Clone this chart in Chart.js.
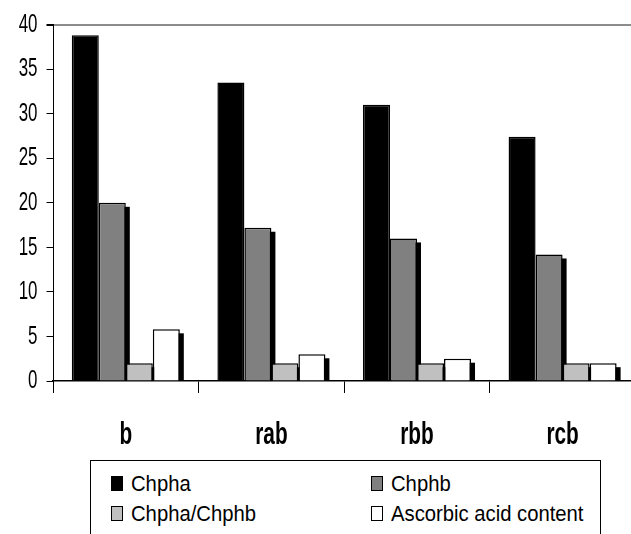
<!DOCTYPE html>
<html>
<head>
<meta charset="utf-8">
<script src="https://cdn.jsdelivr.net/npm/chart.js@4/dist/chart.umd.min.js"></script>
<style>
  html, body { margin: 0; padding: 0; background: #fff; overflow: hidden; width: 631px; height: 534px; }
  #wrap { position: relative; width: 631px; height: 534px; overflow: hidden; }
  #chart { position: absolute; left: 0; top: 0; }
  #legend {
    position: absolute; left: 90px; top: 460px; width: 511px; height: 100px;
    border: 1.5px solid #000; box-sizing: border-box;
    font-family: 'Liberation Sans', Arial, sans-serif;
    font-size: 22.5px; color: #000; padding: 8px 0 0 20px;
    display: grid; grid-template-columns: 260px auto; grid-auto-rows: 30px;
  }
  .item { line-height: 30px; white-space: nowrap; }
  .swatch { display: inline-block; width: 12px; height: 15px; border: 1px solid #000; box-sizing: border-box; margin-right: 8px; }
  .txt { display: inline-block; transform: scaleX(0.9); transform-origin: left center; }
</style>
</head>
<body>
<div id="wrap">
  <canvas id="chart" width="640" height="455"></canvas>
  <div id="legend"></div>
</div>
<script>
// Sample groups and measured series
const categories = ['b', 'rab', 'rbb', 'rcb'];
const chphaValues = [38.8, 33.5, 31.0, 27.4];
const chphbValues = [20.0, 17.2, 16.0, 14.2];
const ratioValues = [2.0, 2.0, 2.0, 2.0];
const ascorbicValues = [5.8, 3.0, 2.5, 2.0];
const seriesNames = ['Chpha', 'Chphb', 'Chpha/Chphb', 'Ascorbic acid content'];
const yTickValues = [0, 5, 10, 15, 20, 25, 30, 35, 40];

const seriesColors = ['#000000', '#808080', '#c0c0c0', '#ffffff'];
const fontStack = "'Liberation Sans', Arial, sans-serif";

// Narrow lettering for the axis labels: squeeze each string horizontally
const condensedText = {
  id: 'condensedText',
  beforeDraw(chart, args, opts) {
    const ctx = chart.ctx;
    if (ctx.__condensed) return;
    const fill = ctx.fillText.bind(ctx);
    ctx.fillText = (text, x, y, maxWidth) => {
      const w = ctx.measureText(text).width * opts.factor;
      fill(text, x, y, maxWidth === undefined ? w : Math.min(w, maxWidth));
    };
    ctx.__condensed = true;
  }
};

// Offset drop shadow painted behind the bars
const barShadow = {
  id: 'barShadow',
  beforeDatasetsDraw(chart, args, opts) {
    const { ctx, chartArea } = chart;
    ctx.save();
    ctx.beginPath();
    ctx.rect(chartArea.left, chartArea.top, chartArea.right - chartArea.left, chartArea.bottom - chartArea.top);
    ctx.clip();
    ctx.fillStyle = opts.color;
    chart.data.datasets.forEach((ds, i) => {
      if (!ds.dropShadow) return;
      chart.getDatasetMeta(i).data.forEach(bar => {
        const { x, y, base, width } = bar.getProps(['x', 'y', 'base', 'width'], true);
        ctx.fillRect(x - width / 2 + opts.offsetX, y + opts.offsetY, width, base - y);
      });
    });
    ctx.restore();
  }
};

const seriesValues = [chphaValues, chphbValues, ratioValues, ascorbicValues];
const datasets = seriesNames.map((name, i) => ({
  label: name,
  data: seriesValues[i],
  backgroundColor: seriesColors[i],
  borderColor: '#000',
  borderWidth: 1.5,
  dropShadow: i > 0,
  barPercentage: 1,
  categoryPercentage: 0.742
}));

const chart = new Chart(document.getElementById('chart'), {
  type: 'bar',
  data: { labels: categories, datasets },
  plugins: [condensedText, barShadow],
  options: {
    responsive: false,
    animation: false,
    devicePixelRatio: 1,
    layout: { padding: { top: 23.3, right: 4.6, bottom: 0, left: 0 } },
    plugins: {
      legend: { display: false },
      tooltip: { enabled: false },
      condensedText: { factor: 0.65 },
      barShadow: { color: '#000', offsetX: 4, offsetY: 4 }
    },
    scales: {
      x: {
        offset: true,
        grid: { offset: true, drawOnChartArea: false, tickLength: 12, tickColor: '#000', tickWidth: 1 },
        border: { color: '#000', width: 1.5 },
        ticks: { color: '#000', font: { family: fontStack, size: 32, weight: 'bold' }, padding: 23 },
        afterFit(scale) { scale.height = 74; }
      },
      y: {
        min: 0,
        max: 40,
        afterBuildTicks(scale) { scale.ticks = yTickValues.map(v => ({ value: v })); },
        grid: {
          color: c => (c.tick && c.tick.value === 40 ? '#8c8c8c' : 'rgba(0,0,0,0)'),
          lineWidth: c => (c.tick && c.tick.value === 40 ? 2 : 1),
          tickColor: '#000',
          tickLength: 6.5
        },
        border: { color: '#000', width: 1 },
        ticks: { color: '#000', font: { family: fontStack, size: 26 }, padding: 9 },
        afterFit(scale) { scale.width = 53; }
      }
    }
  }
});

// Two-column legend box under the axis
const legendEl = document.getElementById('legend');
chart.data.datasets.forEach(ds => {
  const item = document.createElement('div');
  item.className = 'item';
  const sw = document.createElement('span');
  sw.className = 'swatch';
  sw.style.background = ds.backgroundColor;
  const tx = document.createElement('span');
  tx.className = 'txt';
  tx.textContent = ds.label;
  item.appendChild(sw);
  item.appendChild(tx);
  legendEl.appendChild(item);
});
</script>
</body>
</html>
